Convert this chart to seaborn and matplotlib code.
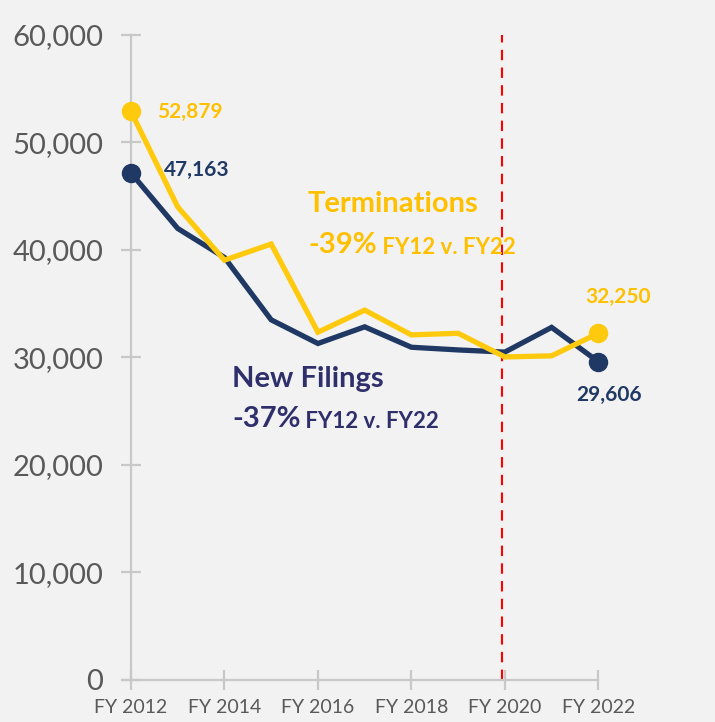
import matplotlib
matplotlib.use("Agg")
import matplotlib.pyplot as plt
import pandas as pd
import seaborn as sns

years = list(range(2012, 2023))
new_filings = [47163, 42000, 39300, 33500, 31300, 32850, 30950, 30700, 30500, 32800, 29606]
terminations = [52879, 44000, 39050, 40550, 32350, 34400, 32100, 32250, 30050, 30150, 32250]
xtick_years = [2012, 2014, 2016, 2018, 2020, 2022]
ytick_vals = [0, 10000, 20000, 30000, 40000, 50000, 60000]

NAVY = "#1f3864"
NAVY_TXT = "#2e2f6b"
GOLD = "#ffc90e"
GOLD_TXT = "#ffc000"
GREY = "#595959"

df = pd.DataFrame({
    "year": years * 2,
    "cases": new_filings + terminations,
    "series": ["New Filings"] * len(years) + ["Terminations"] * len(years),
})

sns.set_theme(style="white")
plt.rcParams["font.family"] = ["Lato", "DejaVu Sans"]

fig = plt.figure(figsize=(7.15, 7.22), dpi=100, facecolor="#f2f2f2")
ax = fig.add_axes([0.1832, 0.0582, 0.719, 0.8934])
ax.set_facecolor("#f2f2f2")

sns.lineplot(data=df, x="year", y="cases", hue="series",
             palette={"New Filings": NAVY, "Terminations": GOLD},
             hue_order=["New Filings", "Terminations"],
             linewidth=3.8, legend=False, ax=ax)
for l in ax.get_lines():
    l.set_solid_joinstyle("miter")

# end point markers
ax.plot([years[0], years[-1]], [new_filings[0], new_filings[-1]], "o",
        color=NAVY, markersize=13, clip_on=False, zorder=5)
ax.plot([years[0], years[-1]], [terminations[0], terminations[-1]], "o",
        color=GOLD, markersize=13, clip_on=False, zorder=5)

ax.axvline(2019.94, color="#ff0000", linestyle=(0, (5, 3.5)), linewidth=1.5, zorder=1)

ax.set_xlim(2012, 2023)
ax.set_ylim(0, 60000)
ax.set_xticks(xtick_years)
ax.set_xticklabels([f"FY {y}" for y in xtick_years])
ax.set_yticks(ytick_vals)
ax.set_yticklabels([f"{v:,}" for v in ytick_vals])
ax.set_xlabel("")
ax.set_ylabel("")

for s in ["top", "right"]:
    ax.spines[s].set_visible(False)
for s in ["left", "bottom"]:
    ax.spines[s].set_color("#c8c8c8")
    ax.spines[s].set_linewidth(1.6)
ax.spines["bottom"].set_bounds(2011.8, 2022)
ax.tick_params(axis="y", direction="inout", length=14, width=1.6, color="#c8c8c8",
               labelsize=21, labelcolor=GREY, pad=13, left=True)
ax.tick_params(axis="x", direction="inout", length=14, width=1.6, color="#c8c8c8",
               labelsize=14, labelcolor=GREY, pad=7, bottom=True)

# value labels
fmt = lambda v: f"{v:,}"
ax.annotate(fmt(terminations[0]), (years[0], terminations[0]), xytext=(19, 0),
            textcoords="offset points", color=GOLD_TXT, fontsize=15, fontweight="bold",
            va="center", ha="left")
ax.annotate(fmt(new_filings[0]), (years[0], new_filings[0]), xytext=(24, 2),
            textcoords="offset points", color=NAVY, fontsize=15, fontweight="bold",
            va="center", ha="left")
ax.annotate(fmt(terminations[-1]), (years[-1], terminations[-1]), xytext=(14, 26),
            textcoords="offset points", color=GOLD_TXT, fontsize=15, fontweight="bold",
            va="center", ha="center")
ax.annotate(fmt(new_filings[-1]), (years[-1], new_filings[-1]), xytext=(8, -24),
            textcoords="offset points", color=NAVY, fontsize=15, fontweight="bold",
            va="center", ha="center")

# series callouts
ax.text(2015.79, 44300, "Terminations", color=GOLD_TXT, fontsize=21,
        fontweight="bold", va="center", ha="left")
t1 = ax.text(2015.79, 39750, "-39%", color=GOLD_TXT, fontsize=21,
             fontweight="bold", va="baseline", ha="left")
ax.annotate(" FY12 v. FY22", xy=(1, 0), xycoords=t1, color=GOLD_TXT, fontsize=16,
            fontweight="bold", va="bottom", ha="left")

ax.text(2014.16, 28000, "New Filings", color=NAVY_TXT, fontsize=21,
        fontweight="bold", va="center", ha="left")
t2 = ax.text(2014.16, 23550, "-37%", color=NAVY_TXT, fontsize=21,
             fontweight="bold", va="baseline", ha="left")
ax.annotate(" FY12 v. FY22", xy=(1, 0), xycoords=t2, color=NAVY_TXT, fontsize=16,
            fontweight="bold", va="bottom", ha="left")

fig.savefig("out.png", dpi=100, facecolor=fig.get_facecolor())
